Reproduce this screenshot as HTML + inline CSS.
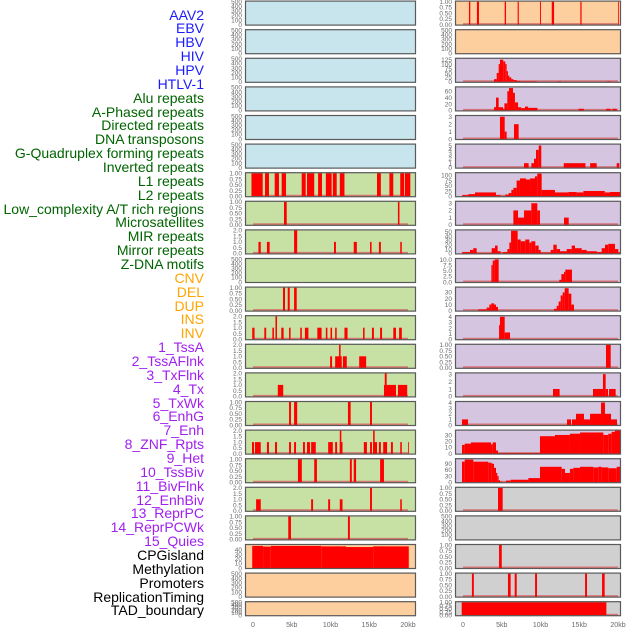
<!DOCTYPE html>
<html><head><meta charset="utf-8">
<style>
html,body{margin:0;padding:0;background:#fff;width:630px;height:630px;overflow:hidden}
#labels{position:absolute;left:0;top:0;width:204px;height:630px}
.lab{position:absolute;right:0;font-family:"Liberation Sans",sans-serif;font-size:14px;line-height:14px;white-space:nowrap}
svg{position:absolute;left:0;top:0}
</style></head><body>
<div id="labels"></div>
<svg id="chart" width="630" height="630"></svg>
<script>
// ---- label data ----
const labelNames=["AAV2","EBV","HBV","HIV","HPV","HTLV-1","Alu repeats","A-Phased repeats","Directed repeats","DNA transposons","G-Quadruplex forming repeats","Inverted repeats","L1 repeats","L2 repeats","Low_complexity A/T rich regions","Microsatellites","MIR repeats","Mirror repeats","Z-DNA motifs","CNV","DEL","DUP","INS","INV","1_TssA","2_TssAFlnk","3_TxFlnk","4_Tx","5_TxWk","6_EnhG","7_Enh","8_ZNF_Rpts","9_Het","10_TssBiv","11_BivFlnk","12_EnhBiv","13_ReprPC","14_ReprPCWk","15_Quies","CPGisland","Methylation","Promoters","ReplicationTiming","TAD_boundary"];
const labelGroups=[6,13,5,15,5];
const groupColors=["#1a1aff","#006400","#ffa500","#a020f0","#000000"];

// ---- axis data ----
const xTicks=[0,5,10,15,20];
const xTickLabels=["0","5kb","10kb","15kb","20kb"];
const T1=[0,0.25,0.5,0.75,1], T1L=["0.00","0.25","0.50","0.75","1.00"];
const T2=[0,0.5,1,1.5,2], T2L=["0.0","0.5","1.0","1.5","2.0"];
const T500=[0,100,200,300,400,500];

// ---- left column series [startKb,endKb,value] ----
const L6=[[-0.2,1.25,1],[1.55,2.06,1],[2.8,3.35,1],[3.7,4.26,1],[6.28,6.8,1],[6.97,7.9,1],[8.4,8.9,1],[9.4,10.15,1],[10.3,10.8,1],[11.2,11.8,1],[16,16.5,1],[17.6,18.1,1],[19,19.5,1],[19.6,20.3,1]];
const L7=[[4.0,4.35,1],[18.7,18.9,1]];
const L8=[[0.7,1.0,1],[1.8,2.15,1],[5.3,5.7,2],[10.45,10.7,1],[13.0,13.4,1],[15.1,15.3,1],[16.25,16.5,1],[19.0,19.2,1]];
const L10=[[3.87,4.13,1],[4.48,4.74,1],[5.3,5.64,1]];
const L11=[[-0.1,0.2,1],[1.46,1.7,1],[2.5,2.7,1],[2.9,3.1,2],[3.65,3.95,1],[4.65,4.85,1],[6.1,6.3,1],[6.7,7.15,1],[8.3,8.85,1],[9.4,9.6,1],[10.0,10.2,1],[10.6,10.8,1],[11.8,12.2,1],[14.2,14.4,1],[15.35,15.6,1],[16.4,16.65,1],[18.1,18.45,1],[18.85,19.2,1]];
const L12=[[9.95,10.2,1],[10.6,11.45,1],[11.1,11.3,2],[11.6,12.1,1],[13.7,14.6,1]];
const L13=[[3.2,3.9,1],[16.9,18.45,1],[17.0,17.25,2],[18.7,19.9,1]];
const L14=[[4.65,4.9,1],[5.3,5.7,1],[12.25,12.6,1],[15.1,15.35,1]];
const L15=[[-0.13,0.13,1],[0.26,1.0,1],[1.8,2.06,1],[2.84,3.1,1],[4.65,4.9,1],[5.3,5.55,1],[6.45,6.7,1],[6.97,7.35,1],[7.5,8.1,1],[9.7,10.3,1],[10.6,10.85,1],[11.2,11.55,1],[11.2,11.4,2],[14.3,14.7,1],[15.1,15.35,1],[15.5,16.0,1],[15.5,15.7,2],[16.25,16.5,1],[16.8,17.3,1],[17.8,18.05,1],[19.0,19.2,1],[20.0,20.1,1]];
const L16=[[5.8,6.3,1],[7.9,8.25,1],[12.5,12.75,1],[13.0,13.3,1],[16.4,16.9,1]];
const L17=[[0.4,1.0,1],[7.5,7.75,1],[9.7,9.95,1],[11.2,11.55,1],[15.1,15.35,2],[19.0,19.2,1]];
const L18=[[4.55,4.9,1],[12.25,12.5,1]];
const L19=[[-0.1,1.3,48],[1.3,2.3,46.5],[2.3,8.8,48],[8.8,12,47],[12,15.5,45.5],[15.5,20.1,47]];

// ---- right column series ----
const R0=[[0.77,0.94,1],[1.8,2.06,1],[5.38,5.55,1],[7.05,7.2,1],[9.94,10.06,1],[11.45,11.75,1],[15.14,15.3,1],[20.0,20.1,1]];
const R2=[[4.0,4.35,15],[4.35,4.6,50],[4.6,4.77,100],[4.77,5.2,125],[5.2,5.46,115],[5.46,5.63,100],[5.63,5.8,60],[5.8,5.98,35],[5.98,6.24,25],[6.24,6.5,15],[6.5,6.92,10],[6.92,7.35,5],[7.35,9.5,3],[12.3,12.65,3],[18.6,19.06,3]];
const R3=[[4.0,4.26,10],[4.26,4.6,40],[4.6,5.16,10],[5.16,5.34,5],[5.34,5.72,22],[5.72,5.94,60],[5.94,6.45,70],[6.45,6.7,55],[6.7,7.1,25],[7.1,7.5,10],[7.5,8.0,7],[8.0,8.4,12],[8.4,9.6,8],[14.9,15.6,5],[18.45,19.06,5],[19.27,19.83,5]];
const R4=[[4.77,5.38,3],[5.38,5.63,1],[6.58,7.18,2]];
const R5=[[7.87,8.47,1],[8.82,9.16,1],[9.16,9.42,2],[9.42,9.77,4],[9.77,10.1,5],[13.0,15.8,1],[16.4,17.25,1],[19.83,20.17,1]];
const R6=[[-0.13,0.69,5],[0.69,1.55,10],[1.55,4.26,18],[4.26,4.86,5],[4.86,5.46,1],[5.46,5.89,8],[5.89,6.24,15],[6.24,6.5,30],[6.5,6.92,40],[6.92,7.35,75],[7.35,8.13,85],[8.13,8.65,80],[8.65,9.29,85],[9.29,9.59,95],[9.59,10.15,108],[10.15,11.87,30],[11.87,13.6,18],[13.6,14.67,20],[14.67,15.53,18],[15.53,18.3,25],[18.3,18.97,18],[18.97,20.26,20]];
const R7=[[6.5,7.1,2],[7.1,7.87,1],[7.87,8.82,2],[8.82,9.59,3],[9.59,9.93,2],[13.03,13.64,1]];
const R8=[[-0.13,0.9,3],[0.9,1.33,8],[1.33,1.76,12],[1.76,3.7,1],[3.7,4.13,12],[4.13,4.47,18],[4.47,4.86,5],[5.12,5.72,3],[5.72,5.98,10],[5.98,6.2,25],[6.2,7.05,52],[7.05,7.44,32],[7.44,8.04,28],[8.04,8.56,32],[8.56,8.82,25],[8.82,9.33,28],[9.33,9.76,18],[9.76,10.02,8],[10.02,11.31,2],[11.31,11.66,8],[11.66,12.09,20],[12.09,12.52,10],[12.52,13.38,5],[13.38,14.02,10],[14.02,14.45,18],[14.45,15.31,12],[15.31,15.96,8],[15.96,17.25,5],[17.25,17.89,3],[17.89,18.32,12],[18.32,18.75,20],[18.75,19.61,22],[19.61,20.04,10],[20.04,20.26,3]];
const R9=[[3.66,3.83,7.5],[3.83,4.09,9.5],[4.09,4.6,10],[12.43,12.69,1],[12.69,13.03,3.5],[13.03,13.2,4.5],[13.2,14.06,5.5]];
const R10=[[1.98,3.05,2],[3.05,3.4,5],[3.4,3.66,10],[3.66,4.0,12],[4.0,4.26,10],[4.26,4.52,6],[11.74,12.09,3],[12.09,12.34,8],[12.34,12.6,15],[12.6,12.86,25],[12.86,13.12,30],[13.12,13.63,37],[13.63,13.98,28],[13.98,14.32,10]];
const R11=[[4.65,4.77,2.5],[4.77,5.38,4],[5.38,6.07,1.2]];
const R12=[[18.45,19.06,1]];
const R13=[[11.61,12.47,1],[16.77,18.06,1],[18.06,18.41,3],[18.41,18.71,1],[18.84,19.7,1]];
const R14=[[-0.13,0.65,1],[13.42,13.94,1],[14.06,14.58,1],[14.58,15.61,2],[15.61,16.39,1],[16.39,17.81,2],[17.81,18.32,4],[18.32,19.1,2],[19.1,19.87,1]];
const R15=[[-0.13,0.22,14],[0.22,1.03,16],[1.03,3.61,18],[3.61,3.83,15],[3.83,4.26,18],[4.26,4.52,5],[4.52,9.93,1],[9.93,11.87,28],[11.87,13.8,30],[13.8,15.1,32],[15.1,18.11,34],[18.11,18.75,30],[18.75,19.18,32],[19.18,19.61,35],[19.61,20.26,37]];
const R16=[[-0.13,0.22,100],[0.22,1.33,110],[1.33,3.27,100],[3.27,3.7,95],[3.7,4.0,90],[4.0,4.26,70],[4.26,4.43,45],[4.43,4.6,30],[4.6,4.77,10],[4.77,5.03,3],[5.55,6.15,8],[6.15,8.43,12],[8.43,9.93,20],[9.93,12.73,75],[12.73,13.16,65],[13.16,13.8,45],[13.8,14.24,65],[14.24,15.1,70],[15.1,16.82,75],[16.82,17.46,72],[17.46,17.89,75],[17.89,18.75,72],[18.75,19.83,68],[19.83,20.26,75]];
const R17=[[4.52,5.12,1]];
const R19=[[4.65,5.0,1]];
const R20=[[1.15,1.4,1],[5.8,6.15,1],[6.67,6.93,1],[9.3,9.55,1],[15.75,16.0,1],[17.94,18.28,1]];
const R21=[[-0.17,18.5,1]];

// ---- panel specs (series, ticks, labels, ymax, bg) ----
const BLUE="#c8e4ec",GREEN="#c7e0a3",ORANGE="#fdcf9f",PURPLE="#d5c5e1",GRAY="#d0d0d0";
const leftPanels=[
 [null,T500,null,500,BLUE],[null,T500,null,500,BLUE],[null,T500,null,500,BLUE],[null,T500,null,500,BLUE],[null,T500,null,500,BLUE],[null,T500,null,500,BLUE],
 [L6,T1,T1L,1,GREEN],[L7,T1,T1L,1,GREEN],[L8,T2,T2L,2,GREEN],[null,T500,null,500,GREEN],[L10,T1,T1L,1,GREEN],[L11,T2,T2L,2,GREEN],
 [L12,T2,T2L,2,GREEN],[L13,T2,T2L,2,GREEN],[L14,T1,T1L,1,GREEN],[L15,T2,T2L,2,GREEN],[L16,T1,T1L,1,GREEN],[L17,T2,T2L,2,GREEN],[L18,T1,T1L,1,GREEN],
 [L19,[0,10,20,30,40],null,50,ORANGE],[null,T500,null,500,ORANGE],[null,T500,null,500,ORANGE]];
const rightPanels=[
 [R0,T1,T1L,1,ORANGE],[null,T500,null,500,ORANGE],
 [R2,[0,25,50,75,100,125],null,130,PURPLE],[R3,[0,20,40,60],null,72,PURPLE],[R4,[0,1,2,3],null,3.1,PURPLE],[R5,[0,1,2,3,4,5],null,5.2,PURPLE],
 [R6,[0,25,50,75,100],null,110,PURPLE],[R7,[0,1,2,3],null,3.2,PURPLE],[R8,[0,10,20,30,40,50],null,53,PURPLE],[R9,[0,2.5,5,7.5,10],["0.0","2.5","5.0","7.5","10.0"],10.2,PURPLE],
 [R10,[0,10,20,30],null,38,PURPLE],[R11,[0,1,2,3,4],null,4.1,PURPLE],[R12,T1,T1L,1,PURPLE],[R13,[0,1,2,3],null,3.1,PURPLE],[R14,[0,1,2,3,4],null,4.1,PURPLE],
 [R15,[0,10,20,30],null,37,PURPLE],[R16,[0,30,60,90],null,112,PURPLE],
 [R17,T1,T1L,1,GRAY],[null,T500,null,500,GRAY],[R19,T1,T1L,1,GRAY],[R20,T1,T1L,1,GRAY],[R21,T1,T1L,1,GRAY]];

// ---- render ----
const NS="http://www.w3.org/2000/svg";
const svg=document.getElementById('chart');
function mk(tag,attrs,parent){const e=document.createElementNS(NS,tag);for(const k in attrs)e.setAttribute(k,attrs[k]);(parent||svg).appendChild(e);return e;}

// labels
const labDiv=document.getElementById('labels');
let gi=0,cnt=0;
labelNames.forEach((n,i)=>{
  if(cnt>=labelGroups[gi]){gi++;cnt=0;}
  cnt++;
  const d=document.createElement('div');
  d.className='lab';
  d.textContent=n;
  d.style.top=(15+i*13.86-7.5)+'px';
  d.style.color=groupColors[gi];
  
  
  labDiv.appendChild(d);
});

const cols=[{x0:245,x1:416,z:253,panels:leftPanels,name:'left'},{x0:455,x1:621,z:463,panels:rightPanels,name:'right'}];
const KB=7.75;
cols.forEach(col=>{
  const xs=kb=>col.z+kb*KB;
  col.panels.forEach((p,i)=>{
    const [series,ticks,tl,ymax,bg]=p;
    const top=0.6+i*28.6, h=(i===21)?15:25, bot=top+h;
    const ys=v=>bot-1-v/ymax*(h-2);
    const g=mk('g',{});
    
    
    const r=mk('rect',{x:col.x0,y:top,width:col.x1-col.x0,height:h,fill:bg,stroke:'none'},g);
    
    
    if(series){
      const bl=mk('line',{x1:xs(0),x2:xs(20),y1:bot-1.5,y2:bot-1.5,stroke:'#d86060','stroke-width':2,opacity:0.8},g);
      
      
      series.forEach(s=>{
        const b=mk('rect',{x:xs(s[0]),y:ys(s[2]),width:Math.max(0.8,(s[1]-s[0])*KB),height:bot-1-ys(s[2]),fill:'#ff0000'},g);
        
        
      });
    }
    const br=mk('rect',{x:col.x0+0.5,y:top+0.5,width:col.x1-col.x0-1,height:h-1,fill:'none',stroke:'#5a5a5a','stroke-width':1.2},g);
    
    
    ticks.forEach((t,k)=>{
      const lab=tl?tl[k]:String(t);
      const tx=mk('text',{x:col.x0-3,y:ys(t)+2.3,'text-anchor':'end','font-family':'Liberation Sans, sans-serif','font-size':6.5,fill:'#6a6a6a'},g);
      tx.textContent=lab;
      
      
    });
  });
  xTicks.forEach((t,k)=>{
    const tx=mk('text',{x:xs(t),y:627,'text-anchor':'middle','font-family':'Liberation Sans, sans-serif','font-size':7,fill:'#6a6a6a'});
    tx.textContent=xTickLabels[k];
    
    
  });
});
</script>
</body></html>
